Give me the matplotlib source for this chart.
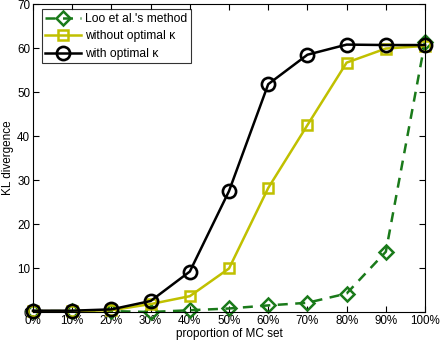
import matplotlib
matplotlib.use("Agg")
import matplotlib.pyplot as plt

x = [0, 10, 20, 30, 40, 50, 60, 70, 80, 90, 100]
xlabels = ["0%", "10%", "20%", "30%", "40%", "50%", "60%", "70%", "80%", "90%", "100%"]
loo = [0.2, 0.2, 0.2, 0.0, 0.4, 0.8, 1.5, 2.1, 4.2, 13.7, 61.5]
without_k = [0.2, 0.2, 0.4, 1.8, 3.6, 9.9, 28.2, 42.5, 56.7, 59.9, 60.5]
with_k = [0.3, 0.3, 0.6, 2.5, 9.2, 27.5, 51.8, 58.5, 60.8, 60.7, 60.7]

plt.rcParams['font.family'] = ['Liberation Sans', 'DejaVu Sans']
fig = plt.figure(figsize=(4.4, 3.44), dpi=100)
ax = fig.add_axes([0.075, 0.093, 0.891, 0.895])

green = '#1a7a1a'
yellow = '#c0c000'
ax.plot(x, loo, '--', color=green, lw=1.8, marker='D', ms=7.5, mfc='none', mew=1.8,
        label="Loo et al.'s method", clip_on=False, dashes=(4, 3))
ax.plot(x, without_k, '-', color=yellow, lw=1.8, marker='s', ms=7.5, mfc='none', mew=1.8,
        label="without optimal κ", clip_on=False)
ax.plot(x, with_k, '-', color='black', lw=1.8, marker='o', ms=9.5, mfc='none', mew=1.9,
        label="with optimal κ", clip_on=False)

ax.set_xlim(0, 100)
ax.set_ylim(0, 70)
ax.set_xticks(x)
ax.set_xticklabels(xlabels)
ax.set_yticks([0, 10, 20, 30, 40, 50, 60, 70])
ax.tick_params(direction='in', top=True, right=True, labelsize=8.4, length=4, pad=2)
ax.set_xlabel('proportion of MC set', fontsize=8.5, labelpad=1)
ax.set_ylabel('KL divergence', fontsize=8.5, labelpad=2)
for s in ax.spines.values():
    s.set_linewidth(0.8)
leg = ax.legend(loc='upper left', fontsize=8.7, frameon=True, fancybox=False,
                edgecolor='black', handlelength=3.0, borderpad=0.3,
                labelspacing=0.45, handletextpad=0.3, bbox_to_anchor=(0.022, 0.983),
                borderaxespad=0)
leg.get_frame().set_linewidth(0.8)
fig.savefig('out.png', dpi=100)
